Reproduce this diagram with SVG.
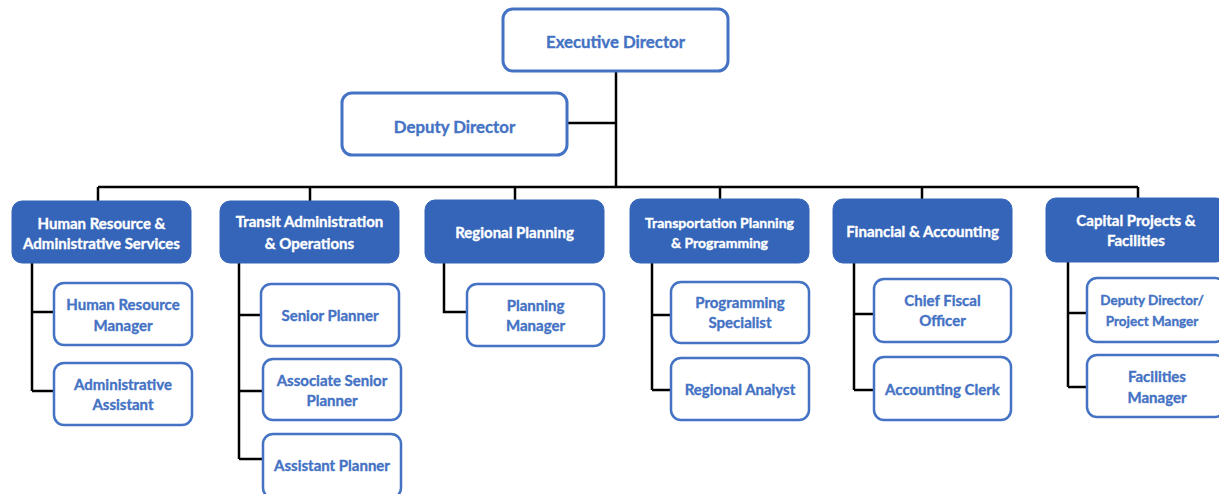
<svg xmlns="http://www.w3.org/2000/svg" width="1219" height="494" viewBox="0 0 1219 494">
  <style>
    .top { fill: #ffffff; stroke: #4472c4; stroke-width: 3; }
    .dept { fill: #3565b8; stroke: #3565b8; stroke-width: 1; }
    .role { fill: #ffffff; stroke: #4472c4; stroke-width: 2.5; }
    .t { font-family: Lato, "Liberation Sans", sans-serif; font-weight: bold; text-anchor: middle; dominant-baseline: central; stroke-width: 0.35px; }
    .tt { fill: #4472c4; stroke: #4472c4; font-size: 16.8px; }
    .dt { fill: #ffffff; stroke: #ffffff; font-size: 15px; }
    .rt { fill: #4472c4; stroke: #4472c4; font-size: 15px; }
    .link { fill: none; stroke: #000000; stroke-width: 2.5; }
  </style>
  <rect width="1219" height="494" fill="#ffffff"/>

  <!-- connectors -->
  <g id="connectors" class="link">
    <path d="M616 71 V187"/>
    <path d="M567 123 H616"/>
    <path d="M98 187 H1138"/>
    <path d="M98 187 V201 M310 187 V201 M515 187 V200 M720 187 V199 M922 187 V199 M1138 187 V198"/>
    <path d="M32 263 V391 M32 312 H54 M32 391 H54"/>
    <path d="M239 263 V459 M239 315 H261 M239 391 H263 M239 459 H263"/>
    <path d="M444 263 V312 H467"/>
    <path d="M652 263 V390 M652 315 H671 M652 390 H671"/>
    <path d="M854 263 V390 M854 314 H874 M854 390 H874"/>
    <path d="M1068 262 V387 M1068 313 H1087 M1068 387 H1087"/>
  </g>

  <!-- leadership -->
  <g id="executive-director">
    <rect class="top" x="503" y="9" width="225" height="62" rx="10"/>
    <text class="t tt" x="615.5" y="41">Executive Director</text>
  </g>
  <g id="deputy-director">
    <rect class="top" x="342" y="93" width="225" height="62" rx="10"/>
    <text class="t tt" x="454.5" y="126">Deputy Director</text>
  </g>

  <!-- departments -->
  <g id="dept-hr">
    <rect class="dept" x="12" y="201" width="179" height="62" rx="10"/>
    <text class="t dt" x="101.5" y="223">Human Resource &amp;</text>
    <text class="t dt" x="101.5" y="243">Administrative Services</text>
  </g>
  <g id="dept-transit">
    <rect class="dept" x="220" y="201" width="179" height="62" rx="10"/>
    <text class="t dt" x="309.5" y="221">Transit Administration</text>
    <text class="t dt" x="309.5" y="243">&amp; Operations</text>
  </g>
  <g id="dept-regional">
    <rect class="dept" x="425" y="200" width="179" height="63" rx="10"/>
    <text class="t dt" x="514.5" y="232">Regional Planning</text>
  </g>
  <g id="dept-transportation">
    <rect class="dept" x="630" y="199" width="179" height="64" rx="10"/>
    <text class="t dt" x="719.5" y="222" style="font-size:14px">Transportation Planning</text>
    <text class="t dt" x="719.5" y="242" style="font-size:14px">&amp; Programming</text>
  </g>
  <g id="dept-financial">
    <rect class="dept" x="833" y="199" width="179" height="64" rx="10"/>
    <text class="t dt" x="922.5" y="231">Financial &amp; Accounting</text>
  </g>
  <g id="dept-capital">
    <rect class="dept" x="1046" y="198" width="180" height="64" rx="10"/>
    <text class="t dt" x="1136" y="220">Capital Projects &amp;</text>
    <text class="t dt" x="1136" y="240">Facilities</text>
  </g>

  <!-- roles -->
  <g id="role-hr-manager">
    <rect class="role" x="54" y="283" width="138" height="62" rx="10"/>
    <text class="t rt" x="123" y="304">Human Resource</text>
    <text class="t rt" x="123" y="325">Manager</text>
  </g>
  <g id="role-admin-assistant">
    <rect class="role" x="54" y="363" width="138" height="62" rx="10"/>
    <text class="t rt" x="123" y="384">Administrative</text>
    <text class="t rt" x="123" y="404">Assistant</text>
  </g>
  <g id="role-senior-planner">
    <rect class="role" x="261" y="284" width="138" height="62" rx="10"/>
    <text class="t rt" x="330" y="315">Senior Planner</text>
  </g>
  <g id="role-associate-senior-planner">
    <rect class="role" x="263" y="359" width="138" height="61" rx="10"/>
    <text class="t rt" x="332" y="380">Associate Senior</text>
    <text class="t rt" x="332" y="400">Planner</text>
  </g>
  <g id="role-assistant-planner">
    <rect class="role" x="263" y="434" width="138" height="64" rx="10"/>
    <text class="t rt" x="332" y="465">Assistant Planner</text>
  </g>
  <g id="role-planning-manager">
    <rect class="role" x="467" y="284" width="137" height="62" rx="10"/>
    <text class="t rt" x="535.5" y="305">Planning</text>
    <text class="t rt" x="535.5" y="325">Manager</text>
  </g>
  <g id="role-programming-specialist">
    <rect class="role" x="671" y="282" width="138" height="61" rx="10"/>
    <text class="t rt" x="740" y="302">Programming</text>
    <text class="t rt" x="740" y="322">Specialist</text>
  </g>
  <g id="role-regional-analyst">
    <rect class="role" x="671" y="358" width="138" height="62" rx="10"/>
    <text class="t rt" x="740" y="389">Regional Analyst</text>
  </g>
  <g id="role-chief-fiscal-officer">
    <rect class="role" x="874" y="279" width="137" height="63" rx="10"/>
    <text class="t rt" x="942.5" y="300">Chief Fiscal</text>
    <text class="t rt" x="942.5" y="320">Officer</text>
  </g>
  <g id="role-accounting-clerk">
    <rect class="role" x="874" y="357" width="137" height="63" rx="10"/>
    <text class="t rt" x="942.5" y="389">Accounting Clerk</text>
  </g>
  <g id="role-deputy-project-manager">
    <rect class="role" x="1087" y="278" width="138" height="64" rx="10"/>
    <text class="t rt" x="1152" y="300" style="font-size:13.5px">Deputy Director/</text>
    <text class="t rt" x="1152" y="321" style="font-size:13.5px">Project Manger</text>
  </g>
  <g id="role-facilities-manager">
    <rect class="role" x="1087" y="355" width="138" height="62" rx="10"/>
    <text class="t rt" x="1157" y="376">Facilities</text>
    <text class="t rt" x="1157" y="397">Manager</text>
  </g>
</svg>
